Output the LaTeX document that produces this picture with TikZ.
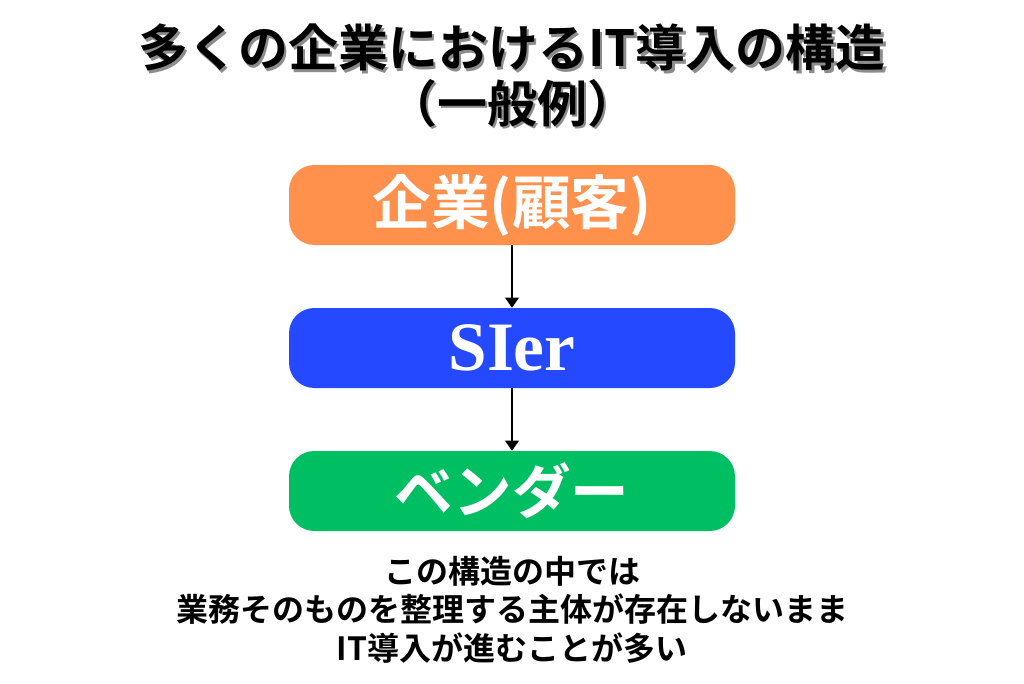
\documentclass[tikz,border=0pt]{standalone}
\usepackage{fontspec}
\usetikzlibrary{arrows.meta}
\newfontfamily\jpfont{Noto Sans CJK JP}[BoldFont={Noto Sans CJK JP Bold}]
\newfontfamily\sierfont{Liberation Serif}
\definecolor{kigyoorange}{HTML}{FF914D}
\definecolor{sierblue}{HTML}{2449FF}
\definecolor{vendorgreen}{HTML}{00BF63}
\begin{document}
\begin{tikzpicture}[x=0.75pt,y=-0.75pt,
  layer/.style={rounded corners=19pt, minimum width=334.5pt, minimum height=60pt, text=white, inner sep=0pt},
  flow/.style={draw, line width=2pt, -{Triangle[width=10pt,length=7.5pt]}}]
\useasboundingbox (0,0) rectangle (1024,683);
\node[text=black!45, align=center, font=\jpfont\bfseries\fontsize{37.5}{41.5}\selectfont] (titleshadow) at (514.5,78) {多くの企業におけるIT導入の構造\\（一般例）};
\node[align=center, font=\jpfont\bfseries\fontsize{37.5}{41.5}\selectfont] (title) at (512,75.5) {多くの企業におけるIT導入の構造\\（一般例）};
\node[layer, fill=kigyoorange, font=\jpfont\bfseries\fontsize{44}{50}\selectfont] (kigyo) at (512,205) {企業(顧客)};
\node[layer, fill=sierblue, font=\sierfont\bfseries\fontsize{52}{58}\selectfont] (sier) at (512,348) {SIer};
\node[layer, fill=vendorgreen, font=\jpfont\bfseries\fontsize{44}{50}\selectfont] (vendor) at (512,491) {ベンダー};
\node[align=center, font=\jpfont\bfseries\fontsize{24}{29}\selectfont] (note) at (512,609.5) {この構造の中では\\業務そのものを整理する主体が存在しないまま\\IT導入が進むことが多い};

\path[flow] (kigyo) -- (sier);
\path[flow] (sier) -- (vendor);
\end{tikzpicture}
\end{document}
